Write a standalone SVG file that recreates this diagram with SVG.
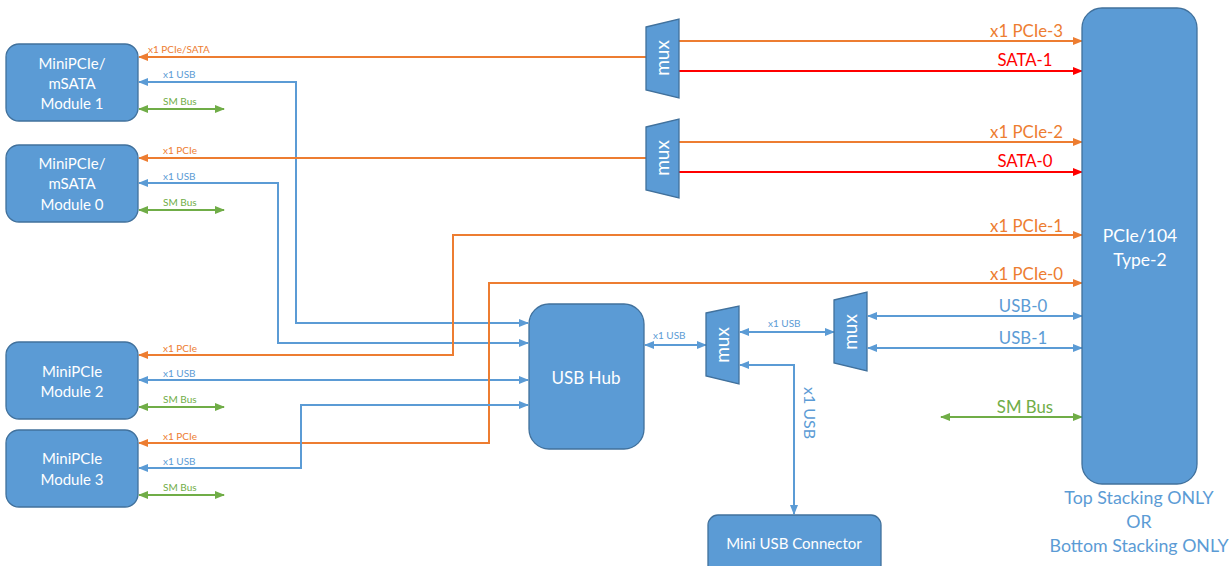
<svg xmlns="http://www.w3.org/2000/svg" width="1230" height="566" viewBox="0 0 1230 566">
<style>
.box{fill:#5B9BD5;stroke:#41719C;stroke-width:1.3}
.bt{font-family:Lato,"Liberation Sans",sans-serif;fill:#fff;text-anchor:middle}
.or{stroke:#ED7D31;stroke-width:2;fill:none}
.bl{stroke:#5B9BD5;stroke-width:2;fill:none}
.rd{stroke:#FF0000;stroke-width:2;fill:none}
.gr{stroke:#70AD47;stroke-width:2;fill:none}
.sl{font-family:Lato,"Liberation Sans",sans-serif;font-size:10px}
.ll{font-family:Lato,"Liberation Sans",sans-serif;font-size:16.8px}
.to{fill:#ED7D31}.tb{fill:#5B9BD5}.tr{fill:#FF0000}.tg{fill:#70AD47}
</style>
<defs>
<marker id="ao" markerUnits="userSpaceOnUse" markerWidth="10" markerHeight="8" refX="9" refY="4" orient="auto-start-reverse"><path d="M0,0L10,4L0,8z" fill="#ED7D31"/></marker>
<marker id="ab" markerUnits="userSpaceOnUse" markerWidth="10" markerHeight="8" refX="9" refY="4" orient="auto-start-reverse"><path d="M0,0L10,4L0,8z" fill="#5B9BD5"/></marker>
<marker id="ar" markerUnits="userSpaceOnUse" markerWidth="10" markerHeight="8" refX="9" refY="4" orient="auto-start-reverse"><path d="M0,0L10,4L0,8z" fill="#FF0000"/></marker>
<marker id="ag" markerUnits="userSpaceOnUse" markerWidth="10" markerHeight="8" refX="9" refY="4" orient="auto-start-reverse"><path d="M0,0L10,4L0,8z" fill="#70AD47"/></marker>
</defs>

<g id="connectors">
<path class="or" d="M647,57H139" marker-end="url(#ao)"/>
<path class="bl" d="M139,82H296V323H528" marker-start="url(#ab)" marker-end="url(#ab)"/>
<path class="gr" d="M139,109H224" marker-start="url(#ag)" marker-end="url(#ag)"/>
<path class="or" d="M647,158H139" marker-end="url(#ao)"/>
<path class="bl" d="M139,183H278V343H528" marker-start="url(#ab)" marker-end="url(#ab)"/>
<path class="gr" d="M139,210H224" marker-start="url(#ag)" marker-end="url(#ag)"/>
<path class="or" d="M139,355H453V235H1082" marker-start="url(#ao)" marker-end="url(#ao)"/>
<path class="bl" d="M139,380H528" marker-start="url(#ab)" marker-end="url(#ab)"/>
<path class="gr" d="M139,407H224" marker-start="url(#ag)" marker-end="url(#ag)"/>
<path class="or" d="M139,443H489V283H1082" marker-start="url(#ao)" marker-end="url(#ao)"/>
<path class="bl" d="M139,468H301V405H528" marker-start="url(#ab)" marker-end="url(#ab)"/>
<path class="gr" d="M139,495H224" marker-start="url(#ag)" marker-end="url(#ag)"/>
<path class="or" d="M679,41H1082" marker-end="url(#ao)"/>
<path class="rd" d="M679,71H1082" marker-end="url(#ar)"/>
<path class="or" d="M679,142H1082" marker-end="url(#ao)"/>
<path class="rd" d="M679,172H1082" marker-end="url(#ar)"/>
<path class="bl" d="M645,345H706" marker-start="url(#ab)" marker-end="url(#ab)"/>
<path class="bl" d="M740,332H834" marker-start="url(#ab)" marker-end="url(#ab)"/>
<path class="bl" d="M740,365H794V514" marker-start="url(#ab)" marker-end="url(#ab)"/>
<path class="bl" d="M868,316H1082" marker-start="url(#ab)" marker-end="url(#ab)"/>
<path class="bl" d="M868,348H1082" marker-start="url(#ab)" marker-end="url(#ab)"/>
<path class="gr" d="M941,417H1082" marker-start="url(#ag)" marker-end="url(#ag)"/>
<text class="sl to" x="148" y="53">x1 PCIe/SATA</text>
<text class="sl tb" x="163" y="78">x1 USB</text>
<text class="sl tg" x="163" y="105">SM Bus</text>
<text class="sl to" x="163" y="154">x1 PCIe</text>
<text class="sl tb" x="163" y="180">x1 USB</text>
<text class="sl tg" x="163" y="206">SM Bus</text>
<text class="sl to" x="163" y="352">x1 PCIe</text>
<text class="sl tb" x="163" y="377">x1 USB</text>
<text class="sl tg" x="163" y="403">SM Bus</text>
<text class="sl to" x="163" y="440">x1 PCIe</text>
<text class="sl tb" x="163" y="465">x1 USB</text>
<text class="sl tg" x="163" y="491">SM Bus</text>
<text class="sl tb" x="653" y="339">x1 USB</text>
<text class="sl tb" x="768" y="327">x1 USB</text>
<text class="ll tb" transform="translate(809,413) rotate(90)" x="0" y="5" text-anchor="middle" style="font-size:16px">x1 USB</text>
<text class="ll to" x="1063" y="37" text-anchor="end">x1 PCIe-3</text>
<text class="ll tr" x="1025" y="66" text-anchor="middle">SATA-1</text>
<text class="ll to" x="1063" y="138" text-anchor="end">x1 PCIe-2</text>
<text class="ll tr" x="1025" y="167" text-anchor="middle">SATA-0</text>
<text class="ll to" x="1063" y="232" text-anchor="end">x1 PCIe-1</text>
<text class="ll to" x="1063" y="280" text-anchor="end">x1 PCIe-0</text>
<text class="ll tb" x="1023" y="312" text-anchor="middle">USB-0</text>
<text class="ll tb" x="1023" y="344" text-anchor="middle">USB-1</text>
<text class="ll tg" x="1025" y="413" text-anchor="middle">SM Bus</text>
</g>

<g id="module1"><rect class="box" x="6" y="44" width="132" height="77" rx="13"/>
<text class="bt" font-size="15" x="72" y="69">MiniPCIe/</text><text class="bt" font-size="15" x="72" y="89">mSATA</text><text class="bt" font-size="15" x="72" y="109">Module 1</text></g>
<g id="module0"><rect class="box" x="6" y="145" width="132" height="77" rx="13"/>
<text class="bt" font-size="15" x="72" y="169">MiniPCIe/</text><text class="bt" font-size="15" x="72" y="189">mSATA</text><text class="bt" font-size="15" x="72" y="210">Module 0</text></g>
<g id="module2"><rect class="box" x="6" y="342" width="132" height="77" rx="13"/>
<text class="bt" font-size="15" x="72" y="377">MiniPCIe</text><text class="bt" font-size="15" x="72" y="397">Module 2</text></g>
<g id="module3"><rect class="box" x="6" y="430" width="132" height="77" rx="13"/>
<text class="bt" font-size="15" x="72" y="464">MiniPCIe</text><text class="bt" font-size="15" x="72" y="485">Module 3</text></g>

<g id="mux1"><path class="box" d="M646,27L679,19V98L646,90Z"/><text class="bt" font-size="19" transform="translate(663,58) rotate(-90)" x="0" y="6">mux</text></g>
<g id="mux2"><path class="box" d="M646,127L679,119V198L646,190Z"/><text class="bt" font-size="19" transform="translate(663,158) rotate(-90)" x="0" y="6">mux</text></g>
<g id="mux3"><path class="box" d="M706,313L739,306V384L706,376Z"/><text class="bt" font-size="19" transform="translate(723,345) rotate(-90)" x="0" y="6">mux</text></g>
<g id="mux4"><path class="box" d="M834,300L867,292V371L834,363Z"/><text class="bt" font-size="19" transform="translate(851,332) rotate(-90)" x="0" y="6">mux</text></g>

<g id="usbhub"><rect class="box" x="529" y="304" width="115" height="145" rx="20"/><text class="bt" font-size="17" x="586" y="384">USB Hub</text></g>
<g id="miniusb"><rect class="box" x="708" y="515" width="173" height="60" rx="10"/><text class="bt" font-size="15" x="794" y="549">Mini USB Connector</text></g>
<g id="pcie104"><rect class="box" x="1082" y="8" width="115" height="476" rx="20"/>
<text class="bt" font-size="17.5" x="1140" y="242">PCIe/104</text><text class="bt" font-size="17.5" x="1140" y="266">Type-2</text></g>
<g id="stacking-note">
<text class="ll tb" x="1139" y="504" text-anchor="middle" style="font-size:17.8px">Top Stacking ONLY</text>
<text class="ll tb" x="1139" y="528" text-anchor="middle" style="font-size:17.8px">OR</text>
<text class="ll tb" x="1139" y="552" text-anchor="middle" style="font-size:17.8px">Bottom Stacking ONLY</text>
</g>
</svg>
